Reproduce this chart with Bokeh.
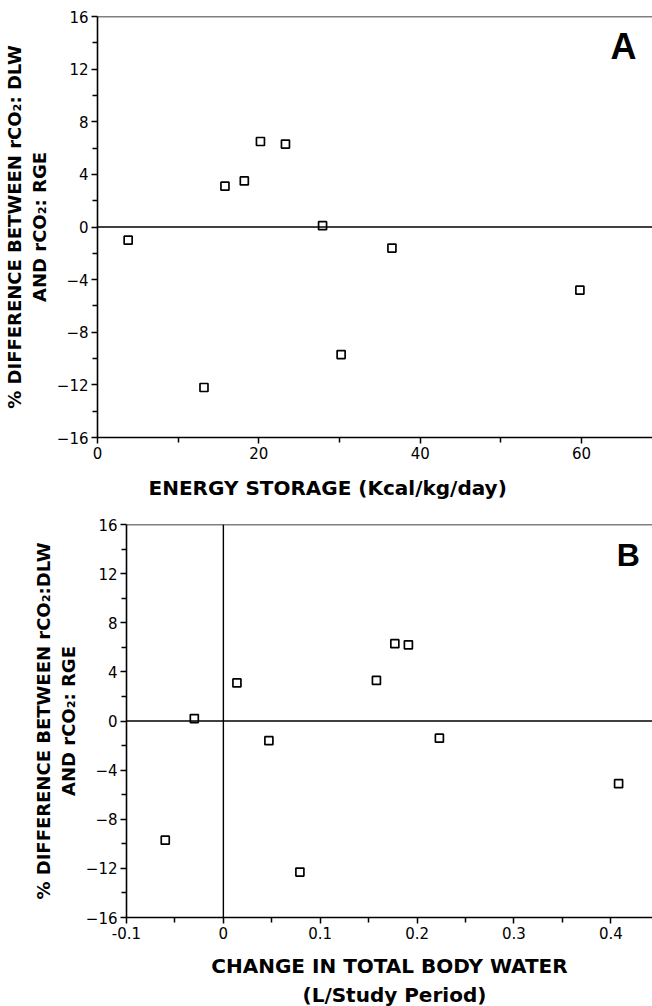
from bokeh.plotting import figure
from bokeh.models import Range1d, Span, Label, FixedTicker, Title
from bokeh.embed import file_html
from bokeh.resources import INLINE

# ---- data ----
energy_storage = [3.8, 13.2, 15.8, 18.2, 20.2, 23.3, 27.9, 30.2, 36.5, 59.8]
diff_a = [-1.0, -12.2, 3.1, 3.5, 6.5, 6.3, 0.1, -9.7, -1.6, -4.8]

tbw_change = [-0.060, -0.030, 0.014, 0.047, 0.079, 0.158, 0.177, 0.191, 0.223, 0.408]
diff_b = [-9.7, 0.2, 3.1, -1.6, -12.3, 3.3, 6.3, 6.2, -1.4, -5.1]

y_ticks = [-16, -12, -8, -4, 0, 4, 8, 12, 16]
y_minor = [-14, -10, -6, -2, 2, 6, 10, 14]
a_x_ticks = [0, 20, 40, 60]
a_x_minor = [10, 30, 50]
b_x_ticks = [-0.1, 0, 0.1, 0.2, 0.3, 0.4]
b_x_tick_labels = ["-0.1", "0", "0.1", "0.2", "0.3", "0.4"]
b_x_minor = [-0.05, 0.05, 0.15, 0.25, 0.35]

y_label_a = "% DIFFERENCE BETWEEN rCO\u2082: DLW\nAND rCO\u2082: RGE"
y_label_b = "% DIFFERENCE BETWEEN rCO\u2082:DLW\nAND rCO\u2082: RGE"
x_title_a = "ENERGY STORAGE (Kcal/kg/day)"
x_title_b1 = "CHANGE IN TOTAL BODY WATER"
x_title_b2 = "(L/Study Period)"

FONT = "DejaVu Sans"


def style(p):
    p.grid.visible = False
    p.outline_line_color = None
    p.background_fill_color = "white"
    p.border_fill_color = "white"
    p.axis.axis_line_color = "black"
    p.axis.axis_line_width = 1.6
    p.axis.major_tick_line_color = "black"
    p.axis.major_tick_line_width = 1.5
    p.axis.minor_tick_line_color = "black"
    p.axis.minor_tick_line_width = 1.5
    p.axis.major_tick_in = 0
    p.axis.major_tick_out = 6
    p.axis.minor_tick_in = 0
    p.axis.minor_tick_out = 5
    p.axis.major_label_text_font = FONT
    p.axis.major_label_text_font_size = "15px"
    p.axis.major_label_text_color = "black"
    p.axis.major_label_standoff = 3
    p.axis.axis_label_text_font = FONT
    p.axis.axis_label_text_font_size = "18px"
    p.axis.axis_label_text_font_style = "bold"
    p.axis.axis_label_text_color = "black"
    p.yaxis.axis_label_standoff = 4
    p.add_layout(Span(location=16, dimension="width", line_color="black", line_width=1.6))
    p.add_layout(Span(location=0, dimension="width", line_color="black", line_width=1.4))


def xtitle(text, offset, standoff, line_height=1.2):
    return Title(text=text, align="left", offset=offset, standoff=standoff,
                 text_font=FONT, text_font_size="20px", text_font_style="bold",
                 text_color="black", text_line_height=line_height)


# ---- Panel A ----
pa = figure(width=652, height=513, output_backend="svg", toolbar_location=None,
            x_range=Range1d(0, 68.8), y_range=Range1d(-16, 16),
            min_border_left=97, min_border_right=0, min_border_top=16, min_border_bottom=76)
style(pa)
pa.xaxis.ticker = FixedTicker(ticks=a_x_ticks, minor_ticks=a_x_minor)
pa.yaxis.ticker = FixedTicker(ticks=y_ticks, minor_ticks=y_minor)
pa.yaxis.axis_label = y_label_a
pa.scatter(energy_storage, diff_a, marker="square", size=8, line_color="black",
           line_width=1.7, fill_color="white")
pa.add_layout(xtitle(x_title_a, 51, 25), "below")
pa.add_layout(Label(x=65.2, y=13.75, text="A", text_align="center", text_baseline="middle",
                    text_font="Liberation Sans", text_font_size="36px", text_font_style="bold",
                    text_color="black"))

# ---- Panel B ----
pb = figure(width=652, height=493, output_backend="svg", toolbar_location=None,
            x_range=Range1d(-0.1, 0.443), y_range=Range1d(-16, 16),
            min_border_left=126, min_border_right=0, min_border_top=11, min_border_bottom=84)
style(pb)
pb.xaxis.ticker = FixedTicker(ticks=b_x_ticks, minor_ticks=b_x_minor)
pb.xaxis.major_label_overrides = {t: s for t, s in zip(b_x_ticks, b_x_tick_labels)}
pb.xaxis.axis_label = x_title_b1
pb.xaxis.axis_label_text_font_size = "20px"
pb.xaxis.axis_label_standoff = 12
pb.yaxis.ticker = FixedTicker(ticks=y_ticks, minor_ticks=y_minor)
pb.yaxis.axis_label = y_label_b
pb.add_layout(Span(location=0, dimension="height", line_color="black", line_width=1.4))
pb.scatter(tbw_change, diff_b, marker="square", size=8, line_color="black",
           line_width=1.7, fill_color="white")
pb.add_layout(xtitle(x_title_b2, 176, 0, 0.9), "below")
pb.add_layout(Label(x=0.418, y=13.5, text="B", text_align="center", text_baseline="middle",
                    text_font="Liberation Sans", text_font_size="32px", text_font_style="bold",
                    text_color="black"))

open("out.html", "w").write(file_html([pa, pb], INLINE))
